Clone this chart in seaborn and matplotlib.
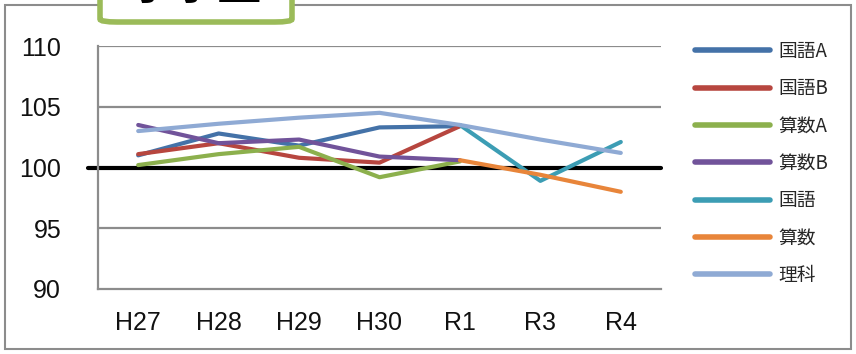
import matplotlib
matplotlib.use("Agg")
import matplotlib.pyplot as plt
from matplotlib import font_manager
from matplotlib.patches import Rectangle, FancyBboxPatch
import numpy as np
import pandas as pd
import seaborn as sns

# ---- data -------------------------------------------------------------
years = ["H27", "H28", "H29", "H30", "R1", "R3", "R4"]
series_names = ["国語A", "国語B", "算数A", "算数B", "国語", "算数", "理科"]

kokugo_a = [101.0, 102.8, 101.8, 103.3, 103.4, np.nan, np.nan]
kokugo_b = [101.1, 102.0, 100.8, 100.4, 103.4, np.nan, np.nan]
sansu_a = [100.2, 101.1, 101.7, 99.2, 100.5, np.nan, np.nan]
sansu_b = [103.5, 102.0, 102.3, 100.9, 100.6, np.nan, np.nan]
kokugo = [np.nan, np.nan, np.nan, np.nan, 103.5, 98.9, 102.1]
sansu = [np.nan, np.nan, np.nan, np.nan, 100.6, 99.4, 98.0]
rika = [103.0, 103.6, 104.1, 104.5, 103.5, 102.3, 101.2]

colors = ["#4472A8", "#B7463F", "#8CB04D", "#71539A", "#3C9DB4", "#E8853A", "#8FAAD4"]

title_text = "小学生"
# -----------------------------------------------------------------------

values = [kokugo_a, kokugo_b, sansu_a, sansu_b, kokugo, sansu, rika]
rows = []
for name, vals in zip(series_names, values):
    for y, v in zip(years, vals):
        rows.append({"年度": y, "教科": name, "値": v})
df = pd.DataFrame(rows).dropna()
df["年度"] = pd.Categorical(df["年度"], categories=years, ordered=True)
df["x"] = df["年度"].cat.codes

sns.set_theme(style="white")
available = {f.name for f in font_manager.fontManager.ttflist}
tick_font = "Liberation Sans Narrow" if "Liberation Sans Narrow" in available else "Liberation Sans"
plt.rcParams["font.family"] = ["Noto Sans CJK JP", "DejaVu Sans"]

W, H = 856, 354
fig = plt.figure(figsize=(W / 100, H / 100), dpi=100)
ax = fig.add_axes([98 / W, 1 - 289 / H, (661 - 98) / W, (289 - 46) / H])

palette = dict(zip(series_names, colors))
sns.lineplot(data=df, x="x", y="値", hue="教科", hue_order=series_names,
             palette=palette, linewidth=3.0, ax=ax, legend=True,
             estimator=None, sort=True)
for line in ax.get_lines():
    line.set_solid_capstyle("round")
    line.set_solid_joinstyle("round")

ax.set_xlim(-0.5, len(years) - 0.5)
ax.set_ylim(90, 110)
ax.set_xlabel("")
ax.set_ylabel("")

grid_c = "#8C8C8C"
for v in (95, 105, 110):
    ax.axhline(v, color=grid_c, lw=1.6, zorder=0.5)
ax.axhline(100, color="black", lw=3.0, zorder=1.5,
           xmin=-10 / (661 - 98), xmax=1.0, clip_on=False)

for s in ("top", "right"):
    ax.spines[s].set_visible(False)
for s in ("left", "bottom"):
    ax.spines[s].set_color(grid_c)
    ax.spines[s].set_linewidth(1.6)

ax.set_yticks([90, 95, 100, 105, 110])
ax.set_yticklabels(["90", "95", "100", "105", "110"])
ax.tick_params(axis="y", direction="inout", length=9, width=1.6, color=grid_c,
               pad=22, labelsize=18, labelcolor="#111111")
ax.set_xticks(np.arange(-0.5, len(years), 1.0))
ax.set_xticklabels([])
ax.set_xticks(np.arange(len(years)), minor=True)
ax.set_xticklabels(years, minor=True)
ax.tick_params(axis="x", which="major", direction="out", length=5, width=1.6, color=grid_c)
ax.tick_params(axis="x", which="minor", length=0, pad=16, labelsize=18, labelcolor="#111111")
for lab in ax.get_yticklabels() + ax.get_xticklabels(minor=True):
    lab.set_fontfamily(tick_font)

handles, labels = ax.get_legend_handles_labels()
ax.get_legend().remove()
for h in handles:
    h.set_linewidth(4.0)
leg = fig.legend(handles, labels, loc="upper left", bbox_to_anchor=(695 / W, 1 - 41 / H),
                 frameon=False, fontsize=13.5, handlelength=4.0, handletextpad=0.43,
                 labelspacing=0.87, borderpad=0, borderaxespad=0)

# outer frame
fig.patches.append(Rectangle((5 / W, 5 / H), (851 - 5) / W, (349 - 5) / H,
                             transform=fig.transFigure, fill=False,
                             edgecolor="#8C8C8C", lw=1.5, zorder=0))
# title tab
fig.patches.append(FancyBboxPatch((100 / W, 1 - 22 / H), (292 - 100) / W, 40 / H,
                                  boxstyle="round,pad=0,rounding_size=0.02",
                                  transform=fig.transFigure, facecolor="white",
                                  edgecolor="#9BBB59", lw=4.0, zorder=2,
                                  mutation_aspect=H / W))
fig.text(196 / W, 1 + 1 / H, title_text, ha="center", va="baseline",
         fontsize=32, fontweight="bold", color="black", zorder=3)

fig.savefig("out.png", dpi=100)
